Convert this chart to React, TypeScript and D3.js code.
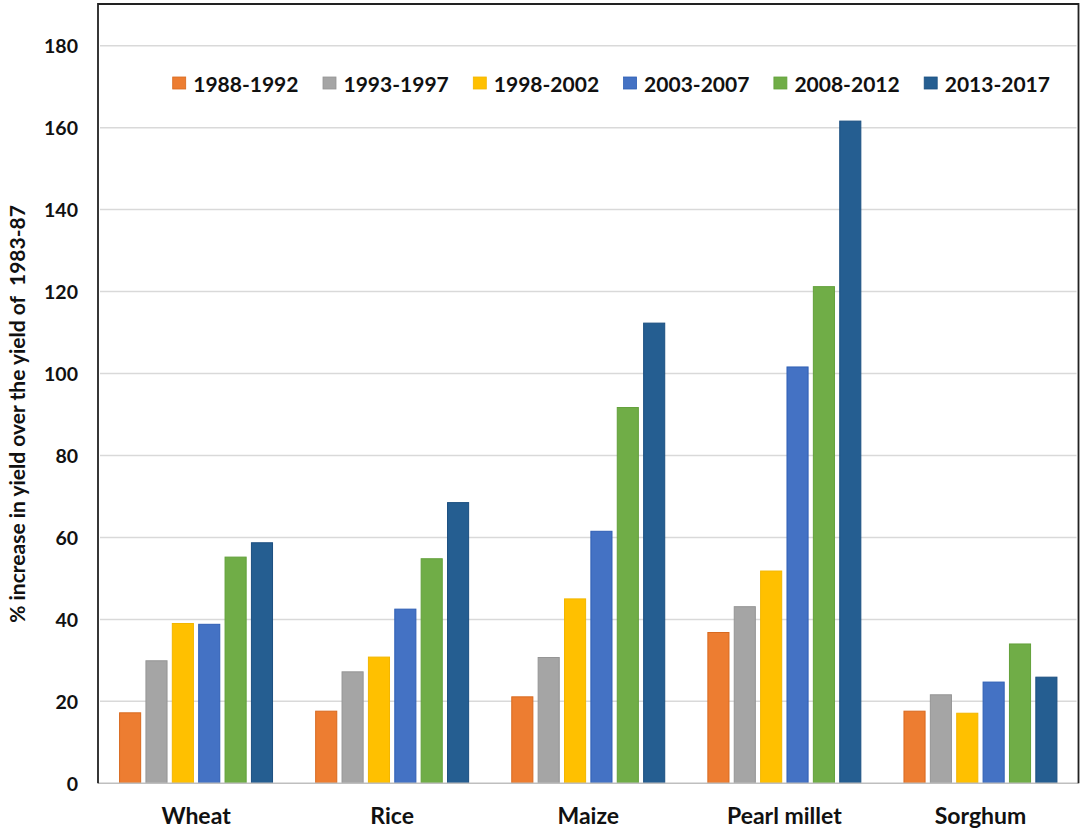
import * as d3 from "d3";

const crops = ["Wheat", "Rice", "Maize", "Pearl millet", "Sorghum"];
const periods = [
  "1988-1992",
  "1993-1997",
  "1998-2002",
  "2003-2007",
  "2008-2012",
  "2013-2017",
];
const colors = ["#ED7D31", "#A5A5A5", "#FFC000", "#4472C4", "#70AD47", "#255E91"];
const strokes = ["#D8691F", "#959595", "#F2B600", "#2F5FB5", "#62A03A", "#1B4F80"];

// one array per period, values in crop order
const p1988 = [17.2, 17.6, 21.1, 36.8, 17.6];
const p1993 = [29.9, 27.2, 30.7, 43.1, 21.6];
const p1998 = [39.0, 30.8, 45.0, 51.8, 17.1];
const p2003 = [38.8, 42.5, 61.5, 101.6, 24.7];
const p2008 = [55.2, 54.8, 91.7, 121.2, 34.0];
const p2013 = [58.7, 68.5, 112.3, 161.6, 25.9];
const series = [p1988, p1993, p1998, p2003, p2008, p2013];

const yTicks = [0, 20, 40, 60, 80, 100, 120, 140, 160, 180];

const font = "Lato, 'DejaVu Sans', sans-serif";

export default function App() {
  const width = 1084;
  const height = 833;
  const left = 98;
  const right = 1078.5;
  const top = 4;
  const bottom = 783.3;

  const x0 = d3
    .scaleBand<string>()
    .domain(crops)
    .range([left, right])
    .paddingInner(0.22)
    .paddingOuter(0.11);

  const x1 = d3
    .scaleBand<number>()
    .domain(d3.range(periods.length))
    .range([0, x0.bandwidth()])
    .paddingInner(0.2)
    .paddingOuter(0);

  const y = d3.scaleLinear().domain([0, 180]).range([bottom, 45.7]);

  const legendX = d3
    .scaleBand<number>()
    .domain(d3.range(periods.length))
    .range([172.7, 172.7 + 150.3 * 6]);

  return (
    <svg
      width={width}
      height={height}
      style={{ position: "absolute", left: 0, top: 0, display: "block", background: "#fff" }}
    >
      {/* gridlines */}
      {yTicks.slice(1).map((t) => (
        <line
          key={`g-${t}`}
          x1={left + 2}
          x2={right - 2}
          y1={y(t)}
          y2={y(t)}
          stroke="#D9D9D9"
          strokeWidth={1.5}
        />
      ))}

      {/* y tick labels */}
      {yTicks.map((t) => (
        <text
          key={`t-${t}`}
          x={78}
          y={y(t)}
          textAnchor="end"
          dominantBaseline="central"
          fontFamily={font}
          fontWeight="bold"
          fontSize={19.5}
          fill="#111"
        >
          {t}
        </text>
      ))}

      {/* bars */}
      {crops.map((crop, ci) => (
        <g key={crop} transform={`translate(${x0(crop)},0)`}>
          {series.map((vals, si) => (
            <rect
              key={si}
              x={x1(si)}
              y={y(vals[ci])}
              width={x1.bandwidth()}
              height={bottom - y(vals[ci])}
              fill={colors[si]}
              stroke={strokes[si]}
              strokeWidth={1}
            />
          ))}
        </g>
      ))}

      {/* x axis line */}
      <line x1={left} x2={right} y1={bottom} y2={bottom} stroke="#BFBFBF" strokeWidth={1.5} />

      {/* category labels */}
      {crops.map((crop) => (
        <text
          key={`c-${crop}`}
          x={(x0(crop) || 0) + x0.bandwidth() / 2}
          y={824}
          textAnchor="middle"
          fontFamily={font}
          fontWeight="bold"
          fontSize={23}
          fill="#111"
        >
          {crop}
        </text>
      ))}

      {/* frame */}
      <path
        d={`M${left},${bottom}V${top}H${right}V${bottom}`}
        fill="none"
        stroke="#222"
        strokeWidth={1.8}
      />

      {/* y title */}
      <text
        transform={`translate(25,414) rotate(-90)`}
        textAnchor="middle"
        fontFamily={font}
        fontWeight="bold"
        fontSize={21}
        fill="#111"
        style={{ whiteSpace: "pre" }}
      >
        {"% increase in yield over the yield of  1983-87"}
      </text>

      {/* legend */}
      {periods.map((p, i) => (
        <g key={p} transform={`translate(${legendX(i)},83)`}>
          <rect x={0} y={-6} width={13} height={12} fill={colors[i]} stroke={strokes[i]} strokeWidth={0.8} />
          <text
            x={20.5}
            y={0}
            dominantBaseline="central"
            fontFamily={font}
            fontWeight="bold"
            fontSize={21}
            fill="#111"
          >
            {p}
          </text>
        </g>
      ))}
    </svg>
  );
}
